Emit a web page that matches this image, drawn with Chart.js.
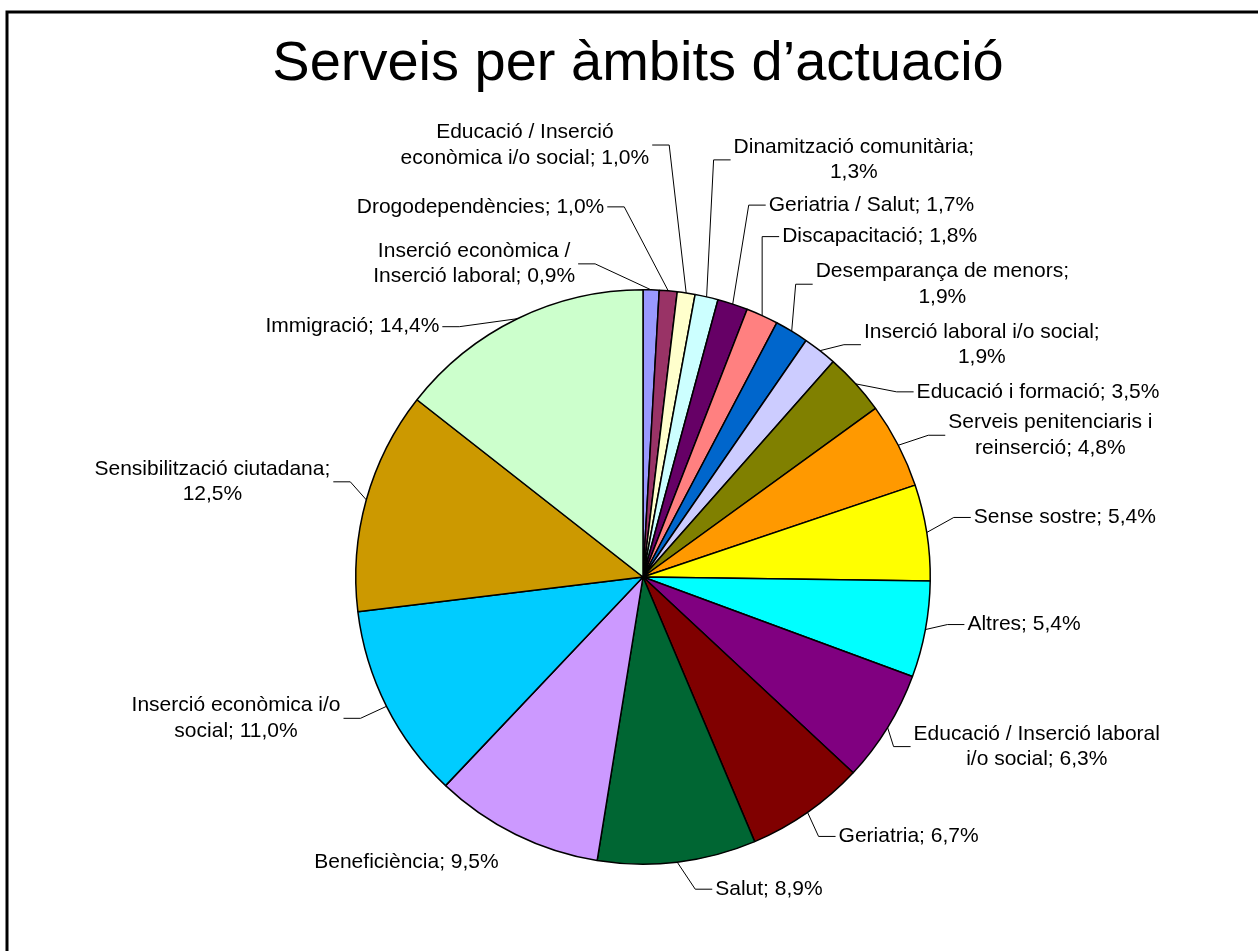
<!DOCTYPE html>
<html>
<head>
<meta charset="utf-8">
<title>Serveis per àmbits d’actuació</title>
<script src="https://cdn.jsdelivr.net/npm/chart.js@4.4.1/dist/chart.umd.min.js"></script>
<style>
  html, body { margin: 0; padding: 0; background: #fff; overflow: hidden; }
  #wrap { width: 1258px; height: 951px; position: relative; }
</style>
</head>
<body>
<div id="wrap"><canvas id="pieChart"></canvas></div>
<script>
const chartTitle = "Serveis per àmbits d’actuació";

const categories = [
  "Inserció econòmica / Inserció laboral",
  "Drogodependències",
  "Educació / Inserció econòmica i/o social",
  "Dinamització comunitària",
  "Geriatria / Salut",
  "Discapacitació",
  "Desemparança de menors",
  "Inserció laboral i/o social",
  "Educació i formació",
  "Serveis penitenciaris i reinserció",
  "Sense sostre",
  "Altres",
  "Educació / Inserció laboral i/o social",
  "Geriatria",
  "Salut",
  "Beneficiència",
  "Inserció econòmica i/o social",
  "Sensibilització ciutadana",
  "Immigració"
];

const percentages = [0.9, 1.0, 1.0, 1.3, 1.7, 1.8, 1.9, 1.9, 3.5, 4.8, 5.4, 5.4, 6.3, 6.7, 8.9, 9.5, 11.0, 12.5, 14.4];

const sliceColors = [
  "#9999FF", "#993366", "#FFFFCC", "#CCFFFF", "#660066", "#FF8080", "#0066CC",
  "#CCCCFF", "#808000", "#FF9900", "#FFFF00", "#00FFFF", "#800080", "#800000",
  "#006633", "#CC99FF", "#00CCFF", "#CC9900", "#CCFFCC"
];

// where each label sits, relative to the middle of its slice's outer edge: [dx, dy, leader line?]
const labelOffsets = [
  [-73, -26, true], [-61, -84, true], [-34, -148, true], [24, -137, true],
  [33, -99, true], [17, -79, true], [21, -47, true], [41, -6, true],
  [58, 8, true], [47, -10, true], [44, -15, true], [39, -5, true],
  [23, 19, true], [28, 24, true], [35, 27, true], [-14, 28, false],
  [-43, 12, true], [-33, -18, true], [-75, 8, true]
];

const labelFont = "21px 'Liberation Sans', Arial, sans-serif";
const wrapWidth = 260;
const lineHeight = 25.5;

function fmtPct(v) {
  return v.toFixed(1).replace(".", ",") + "%";
}

function wrapText(ctx, text, maxW) {
  const words = text.split(" ");
  const lines = [];
  let cur = "";
  words.forEach(w => {
    const test = cur ? cur + " " + w : w;
    if (cur && ctx.measureText(test).width > maxW) {
      lines.push(cur);
      cur = w;
    } else {
      cur = test;
    }
  });
  if (cur) lines.push(cur);
  return lines;
}

const framePlugin = {
  id: "frame",
  beforeDraw(chart) {
    const ctx = chart.ctx;
    ctx.save();
    ctx.fillStyle = "#fff";
    ctx.fillRect(0, 0, chart.width, chart.height);
    ctx.strokeStyle = "#000";
    ctx.lineWidth = 3;
    ctx.beginPath();
    ctx.moveTo(7, chart.height + 5);
    ctx.lineTo(7, 12);
    ctx.lineTo(chart.width + 5, 12);
    ctx.stroke();

    ctx.fillStyle = "#000";
    ctx.font = "56px 'Liberation Sans', Arial, sans-serif";
    ctx.textAlign = "center";
    ctx.textBaseline = "alphabetic";
    ctx.fillText(chartTitle, 638, 80);
    ctx.restore();
  }
};

const pieLabelPlugin = {
  id: "pieLabels",
  afterDatasetsDraw(chart) {
    const ctx = chart.ctx;
    const meta = chart.getDatasetMeta(0);
    ctx.save();
    ctx.font = labelFont;
    ctx.fillStyle = "#000";
    ctx.strokeStyle = "#000";
    ctx.lineWidth = 1;
    ctx.textBaseline = "middle";

    meta.data.forEach((arc, i) => {
      const p = arc.getProps(["x", "y", "startAngle", "endAngle", "outerRadius"], true);
      const mid = (p.startAngle + p.endAngle) / 2;
      const ex = p.x + Math.cos(mid) * p.outerRadius;
      const ey = p.y + Math.sin(mid) * p.outerRadius;
      const [dx, dy, showLine] = labelOffsets[i];
      const tx = ex + dx;
      const ty = ey + dy;
      const toRight = dx >= 0;

      if (showLine) {
        const elbowX = toRight ? tx - 17 : tx + 17;
        ctx.beginPath();
        ctx.moveTo(ex, ey);
        ctx.lineTo(elbowX, ty);
        ctx.lineTo(tx, ty);
        ctx.stroke();
      }

      const text = categories[i] + "; " + fmtPct(percentages[i]);
      const lines = wrapText(ctx, text, wrapWidth);
      const blockW = Math.max(...lines.map(l => ctx.measureText(l).width));
      const cx = toRight ? tx + 3 + blockW / 2 : tx - 3 - blockW / 2;
      const top = ty - (lines.length - 1) * lineHeight / 2;
      ctx.textAlign = "center";
      lines.forEach((l, k) => ctx.fillText(l, cx, top + k * lineHeight));
    });
    ctx.restore();
  }
};

new Chart(document.getElementById("pieChart").getContext("2d"), {
  type: "pie",
  data: {
    labels: categories,
    datasets: [{
      data: percentages,
      backgroundColor: sliceColors,
      borderColor: "#000",
      borderWidth: 1.5
    }]
  },
  options: {
    responsive: true,
    maintainAspectRatio: false,
    animation: false,
    layout: { padding: { top: 289, bottom: 86, left: 355, right: 327 } },
    plugins: {
      legend: { display: false },
      tooltip: { enabled: false },
      title: { display: false }
    }
  },
  plugins: [framePlugin, pieLabelPlugin]
});
</script>
</body>
</html>
